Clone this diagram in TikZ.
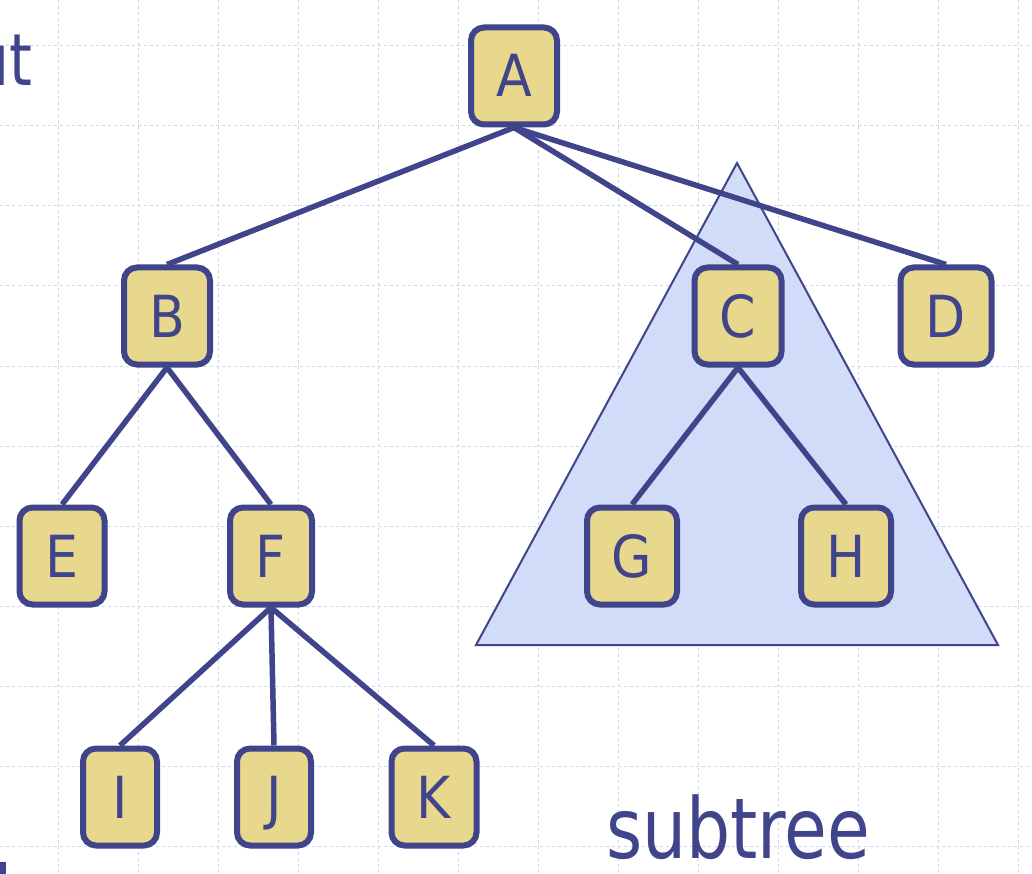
\documentclass[tikz,border=0pt]{standalone}
\usepackage{fontspec}
\usepackage{graphicx}
\setmainfont{DejaVu Sans Condensed}
\definecolor{ink}{HTML}{40448A}
\definecolor{boxfill}{HTML}{E8D88E}
\definecolor{trifill}{HTML}{D0DCF8}
\definecolor{gridc}{HTML}{CCD6F4}
\pgfdeclarelayer{bglayer}
\pgfdeclarelayer{edgelayer}
\pgfsetlayers{bglayer,edgelayer,main}
\begin{document}
\begin{tikzpicture}[x=1pt,y=-1pt,
  treenode/.style={draw=ink, fill=boxfill, line width=6pt, rounded corners=13pt,
    minimum height=97pt, minimum width=86pt, inner sep=0pt,
    text=ink, text height=42pt, text depth=0pt,
    font=\fontsize{58}{60}\selectfont},
  edge/.style={draw=ink, line width=5.5pt},
  gridline/.style={draw=gridc, line width=1pt, dash pattern=on 3pt off 3pt}]
\useasboundingbox (0,0) rectangle (1032,874);
% nodes
\node[treenode] (A) at (514,76) {A};
\node[treenode] (B) at (167,316) {B};
\node[treenode, minimum width=87pt] (C) at (738,316) {C};
\node[treenode, minimum width=91pt] (D) at (946,316) {D};
\node[treenode, minimum width=85pt] (E) at (62,556) {E};
\node[treenode, minimum width=82pt] (F) at (271,556) {F};
\node[treenode, minimum width=90pt] (G) at (632,556) {G};
\node[treenode, minimum width=90pt] (H) at (846,556) {H};
\node[treenode, minimum width=74pt] (I) at (120,797) {I};
\node[treenode, minimum width=74pt] (J) at (274,797) {J};
\node[treenode, minimum width=85pt] (K) at (434,797) {K};
% background: grid and subtree triangle
\begin{pgfonlayer}{bglayer}
\fill[white] (0,0) rectangle (1032,874);
\foreach \gx in {58,138,...,1018} \draw[gridline] (\gx,0) -- (\gx,874);
\foreach \gy in {46,126,...,846} \draw[gridline] (0,\gy) -- (1032,\gy);
\coordinate (tapex) at (737,163);
\coordinate (tleft) at (476,645);
\coordinate (tright) at (998,645);
\draw[draw=ink, fill=trifill, line width=2pt, line join=miter] (tapex) -- (tleft) -- (tright) -- cycle;
\end{pgfonlayer}
% edges
\begin{pgfonlayer}{edgelayer}
\draw[edge] (A.south) -- (B.north);
\draw[edge] (A.south) -- (C.north);
\draw[edge] (A.south) -- (D.north);
\draw[edge] (B.south) -- (E.north);
\draw[edge] (B.south) -- (F.north);
\draw[edge] (C.south) -- (G.north);
\draw[edge] (C.south) -- (H.north);
\draw[edge] (F.south) -- (I.north);
\draw[edge] (F.south) -- (J.north);
\draw[edge] (F.south) -- (K.north);
\end{pgfonlayer}
% texts
\node[anchor=base west, inner sep=0pt, text=ink] (subtree) at (606,858)
  {\scalebox{0.92}[1]{\fontsize{84}{90}\selectfont subtree}};
\node[anchor=base east, inner sep=0pt, text=ink] (ut) at (33,86)
  {\scalebox{0.9}[1]{\fontsize{72}{80}\selectfont ut}};
\fill[ink] (0,862) rectangle (6,874);
\end{tikzpicture}
\end{document}
